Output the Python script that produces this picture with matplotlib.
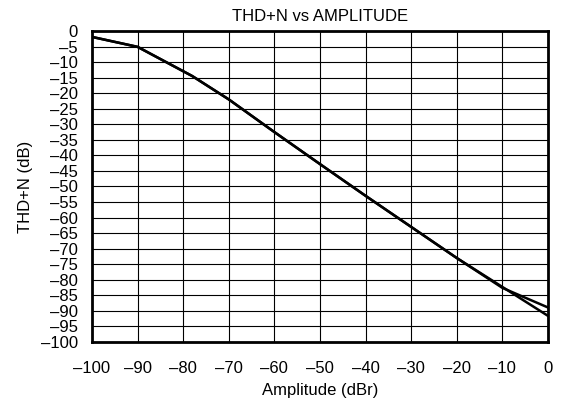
import matplotlib
matplotlib.use("Agg")
import matplotlib.pyplot as plt
import numpy as np

plt.rcParams['font.family'] = ['Liberation Sans', 'DejaVu Sans']

# amplitude (dBr) and THD+N (dB)
amp = [-100, -90, -78, -70, -60, -50, -40, -30, -20, -10, 0]
thd_a = [-1.9, -5.1, -14.5, -22, -32.5, -42.8, -53, -63, -73, -82.6, -88.9]
thd_b = [-1.9, -5.1, -14.5, -22, -32.5, -42.8, -53, -63, -73, -82.3, -91.6]

x_ticks = list(range(-100, 1, 10))
y_ticks = list(range(-100, 1, 5))


fig = plt.figure(figsize=(5.61, 4.07), dpi=100)
ax = fig.add_axes([92 / 561, 1 - 342 / 407, (548 - 92) / 561, (342 - 31) / 407])

ax.plot(amp, thd_a, color='black', linewidth=1.8)
ax.plot(amp, thd_b, color='black', linewidth=1.8)

ax.set_xlim(-100, 0)
ax.set_ylim(-100, 0)
ax.set_xticks(x_ticks)
ax.set_yticks(y_ticks)
ax.set_xticklabels([str(t).replace('-', '\u2013') for t in x_ticks])
ax.set_yticklabels([str(t).replace('-', '\u2013') for t in y_ticks])
ax.tick_params(length=0, labelsize=12)
ax.tick_params(axis='y', pad=10)
ax.tick_params(axis='x', pad=14)
ax.grid(True, color='black', linewidth=0.8)
for s in ax.spines.values():
    s.set_linewidth(2)

ax.set_title('THD+N vs AMPLITUDE', fontsize=12, pad=7)
ax.set_xlabel('Amplitude (dBr)', fontsize=12, labelpad=5)
ax.set_ylabel('THD+N (dB)', fontsize=12, labelpad=6)

fig.savefig('out.png', dpi=100)
